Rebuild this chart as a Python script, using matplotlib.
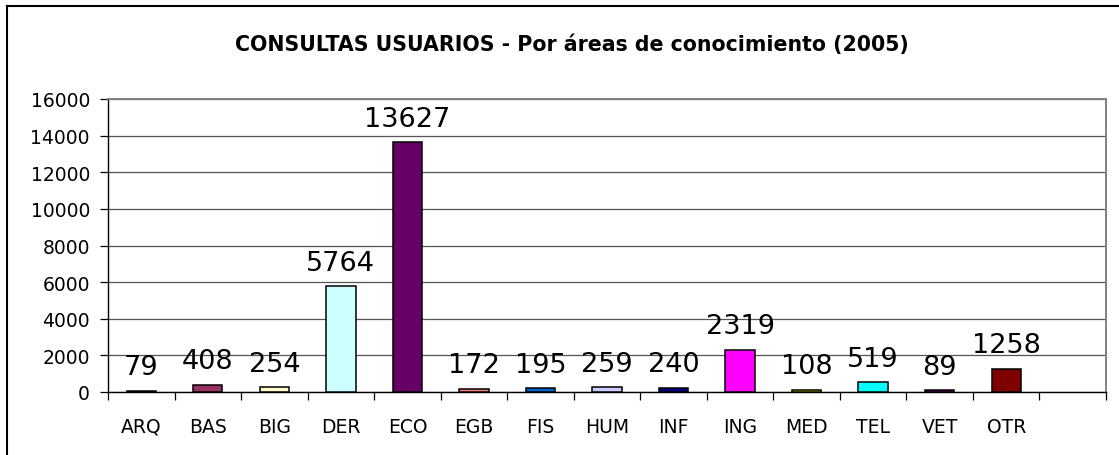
import matplotlib
matplotlib.use("Agg")
import matplotlib.pyplot as plt
from matplotlib.lines import Line2D

plt.rcParams['font.family'] = ['DejaVu Sans']

# Data
areas = ["ARQ", "BAS", "BIG", "DER", "ECO", "EGB", "FIS", "HUM", "INF",
         "ING", "MED", "TEL", "VET", "OTR"]
consultas = [79, 408, 254, 5764, 13627, 172, 195, 259, 240,
             2319, 108, 519, 89, 1258]
colores = ["#9999FF", "#993366", "#FFFFCC", "#CCFFFF", "#660066", "#FF8080",
           "#0066CC", "#CCCCFF", "#000080", "#FF00FF", "#FFFF00", "#00FFFF",
           "#800080", "#800000"]
y_ticks = [0, 2000, 4000, 6000, 8000, 10000, 12000, 14000, 16000]
titulo = "CONSULTAS USUARIOS - Por áreas de conocimiento (2005)"
n_slots = 15

W, H = 1119, 456
fig = plt.figure(figsize=(W / 100, H / 100), dpi=100)
fig.patch.set_facecolor("white")

left, right, top, bottom = 108, 1106, 100, 393
ax = fig.add_axes([left / W, (H - bottom) / H, (right - left) / W, (bottom - top) / H])

x = list(range(len(areas)))
ax.bar(x, consultas, width=0.44, color=colores, edgecolor="black",
       linewidth=1.1, zorder=3)

for xi, v in zip(x, consultas):
    ax.annotate(str(v), (xi, v), xytext=(0, 12), textcoords="offset points",
                ha="center", va="baseline", fontsize=19.5, zorder=4)

ax.set_xlim(-0.5, n_slots - 0.5)
ax.set_ylim(0, 16000)
ax.set_yticks(y_ticks)
ax.set_yticklabels([str(t) for t in y_ticks], fontsize=13.5)
ax.yaxis.grid(True, color="#555555", linewidth=0.9, zorder=0)
ax.set_axisbelow(True)

# boundary ticks between categories, labels centred on bars
ax.set_xticks([i - 0.5 for i in range(n_slots + 1)])
ax.set_xticklabels([])
ax.set_xticks(x, minor=True)
ax.set_xticklabels(areas, minor=True, fontsize=13.5)
ax.tick_params(axis="x", which="major", direction="out", length=6, width=0.9)
ax.tick_params(axis="x", which="minor", length=0, pad=18)
ax.tick_params(axis="y", direction="out", length=6, width=0.9, pad=7)

for side in ("top", "right"):
    ax.spines[side].set_color("#808080")
    ax.spines[side].set_linewidth(1.4)
for side in ("left", "bottom"):
    ax.spines[side].set_color("black")
    ax.spines[side].set_linewidth(1.0)

fig.text(0.5 * (232 + 912) / W, 1 - 45 / H, titulo, ha="center", va="center",
         fontsize=14.8, fontweight="bold")

# chart frame
fig.add_artist(Line2D([6.5 / W, 6.5 / W], [0, 1 - 6.5 / H], color="black",
                      linewidth=1.5, transform=fig.transFigure))
fig.add_artist(Line2D([6.5 / W, 1], [1 - 6.5 / H, 1 - 6.5 / H], color="black",
                      linewidth=1.5, transform=fig.transFigure))

fig.savefig("out.png", dpi=100)
